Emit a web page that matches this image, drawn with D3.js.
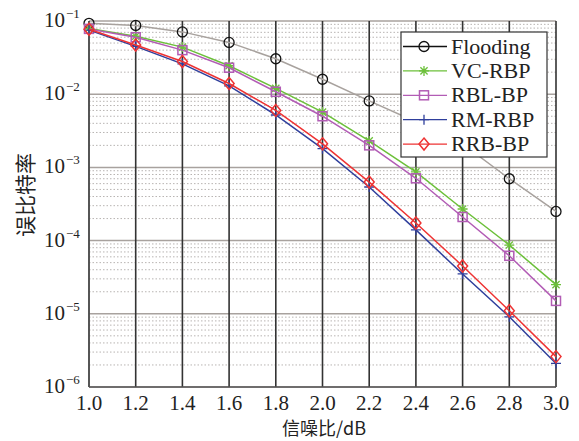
<!DOCTYPE html>
<html>
<head>
<meta charset="utf-8">
<script src="https://cdn.jsdelivr.net/npm/d3@7"></script>
<style>
body { margin: 0; background: #fff; }
text { font-family: "Liberation Serif", "Times New Roman", serif; fill: #222; }
.cjk { font-family: "Noto Sans CJK SC", sans-serif; }
</style>
</head>
<body>
<script>
// data
var snr = [1.0, 1.2, 1.4, 1.6, 1.8, 2.0, 2.2, 2.4, 2.6, 2.8, 3.0];
var flooding = [0.093, 0.087, 0.071, 0.051, 0.0305, 0.016, 0.0081, 0.0042, 0.0021, 0.0007, 0.00025];
var vcRbp = [0.079, 0.062, 0.044, 0.0245, 0.012, 0.0057, 0.0023, 0.00087, 0.00027, 0.000087, 0.000025];
var rblBp = [0.078, 0.060, 0.040, 0.023, 0.0108, 0.0050, 0.0020, 0.00071, 0.00021, 0.000062, 0.000015];
var rmRbp = [0.075, 0.045, 0.026, 0.0130, 0.0052, 0.0018, 0.00054, 0.00014, 0.000035, 0.0000091, 0.0000021];
var rrbBp = [0.077, 0.047, 0.028, 0.0140, 0.0060, 0.0021, 0.00063, 0.000174, 0.000045, 0.000011, 0.0000026];
var xTicks = [1.0, 1.2, 1.4, 1.6, 1.8, 2.0, 2.2, 2.4, 2.6, 2.8, 3.0];
var yTicks = [1e-6, 1e-5, 1e-4, 1e-3, 1e-2, 1e-1];

var series = [
  {name: "Flooding", values: flooding, line: "#a8a29e", mark: "#111", shape: "circle"},
  {name: "VC-RBP", values: vcRbp, line: "#6cc03a", mark: "#6cc03a", shape: "star"},
  {name: "RBL-BP", values: rblBp, line: "#b25cb5", mark: "#b25cb5", shape: "square"},
  {name: "RM-RBP", values: rmRbp, line: "#2f3f9c", mark: "#2f3f9c", shape: "plus"},
  {name: "RRB-BP", values: rrbBp, line: "#ee3333", mark: "#ee3333", shape: "diamond"}
];

var W = 579, H = 441;
var pLeft = 89, pRight = 556, pTop = 21, pBottom = 387;

var x = d3.scaleLinear().domain([1, 3]).range([pLeft, pRight]);
var y = d3.scaleLog().domain([1e-6, 1e-1]).range([pBottom, pTop]);

var svg = d3.select("body").append("svg")
  .attr("width", W).attr("height", H);

// minor dotted grid
var minor = [];
for (var e = -6; e < -1; e++) {
  for (var m = 2; m <= 9; m++) minor.push(m * Math.pow(10, e));
}
svg.append("g").selectAll("line").data(minor).enter().append("line")
  .attr("x1", pLeft).attr("x2", pRight)
  .attr("y1", function(d) { return y(d); }).attr("y2", function(d) { return y(d); })
  .attr("stroke", "#b8b4b2").attr("stroke-width", 1)
  .attr("stroke-dasharray", "1.5,2");

// decade lines
svg.append("g").selectAll("line").data(yTicks).enter().append("line")
  .attr("x1", pLeft).attr("x2", pRight)
  .attr("y1", function(d) { return y(d); }).attr("y2", function(d) { return y(d); })
  .attr("stroke", "#a8a29e").attr("stroke-width", 1.5);

// vertical grid
svg.append("g").selectAll("line").data(xTicks).enter().append("line")
  .attr("x1", function(d) { return x(d); }).attr("x2", function(d) { return x(d); })
  .attr("y1", pTop).attr("y2", pBottom)
  .attr("stroke", "#333").attr("stroke-width", 1.6);

// axes frame
svg.append("line").attr("x1", pLeft).attr("x2", pLeft).attr("y1", pTop).attr("y2", pBottom)
  .attr("stroke", "#555").attr("stroke-width", 1.5);
svg.append("line").attr("x1", pLeft).attr("x2", pRight).attr("y1", pBottom).attr("y2", pBottom)
  .attr("stroke", "#555").attr("stroke-width", 1.5);

// x tick labels
svg.append("g").selectAll("text").data(xTicks).enter().append("text")
  .attr("x", function(d) { return x(d); }).attr("y", 410)
  .attr("text-anchor", "middle").attr("font-size", 21)
  .text(function(d) { return d3.format(".1f")(d); });

// y tick labels
svg.append("g").selectAll("text").data(yTicks).enter().append("text")
  .attr("x", 65).attr("y", function(d) { return y(d) + 6; })
  .attr("text-anchor", "end").attr("font-size", 21)
  .text("10");
svg.append("g").selectAll("text").data(yTicks).enter().append("text")
  .attr("x", 66).attr("y", function(d) { return y(d) - 3; })
  .attr("font-size", 13)
  .text(function(d) { return "\u2212" + Math.round(-Math.log10(d)); });

// axis titles
svg.append("text").attr("class", "cjk")
  .attr("x", 324).attr("y", 435).attr("text-anchor", "middle").attr("font-size", 18)
  .text("信噪比/dB");
svg.append("text").attr("class", "cjk")
  .attr("transform", "translate(33,195) rotate(-90)")
  .attr("text-anchor", "middle").attr("font-size", 21)
  .text("误比特率");

function marker(g, shape, color) {
  if (shape === "circle") {
    g.append("circle").attr("r", 5).attr("fill", "none").attr("stroke", color).attr("stroke-width", 1.3);
  } else if (shape === "square") {
    g.append("rect").attr("x", -4.5).attr("y", -4.5).attr("width", 9).attr("height", 9)
      .attr("fill", "none").attr("stroke", color).attr("stroke-width", 1.5);
  } else if (shape === "diamond") {
    g.append("path").attr("d", "M0,-6L5,0L0,6L-5,0Z")
      .attr("fill", "none").attr("stroke", color).attr("stroke-width", 1.5);
  } else if (shape === "plus") {
    g.append("path").attr("d", "M-5,0H5M0,-5V5")
      .attr("stroke", color).attr("stroke-width", 1.3);
  } else if (shape === "star") {
    g.append("path").attr("d", "M-5,0H5M0,-5V5M-3.6,-3.6L3.6,3.6M-3.6,3.6L3.6,-3.6")
      .attr("stroke", color).attr("stroke-width", 1.3);
  }
}

var line = d3.line()
  .x(function(d) { return x(d[0]); })
  .y(function(d) { return y(d[1]); });

series.forEach(function(s) {
  var pts = snr.map(function(v, i) { return [v, s.values[i]]; });
  svg.append("path").datum(pts)
    .attr("d", line).attr("fill", "none")
    .attr("stroke", s.line).attr("stroke-width", 1.5);
  var mk = svg.append("g").selectAll("g").data(pts).enter().append("g")
    .attr("transform", function(d) { return "translate(" + x(d[0]) + "," + y(d[1]) + ")"; });
  mk.each(function() { marker(d3.select(this), s.shape, s.mark); });
});

// legend
var lg = svg.append("g").attr("transform", "translate(401,32)");
lg.append("rect").attr("width", 146).attr("height", 125)
  .attr("fill", "#fff").attr("stroke", "#333").attr("stroke-width", 1.2);
series.forEach(function(s, i) {
  var row = lg.append("g").attr("transform", "translate(0," + (14.5 + i * 24.4) + ")");
  row.append("line").attr("x1", 2).attr("x2", 46).attr("y1", 0).attr("y2", 0)
    .attr("stroke", s.line === "#a8a29e" ? "#111" : s.line).attr("stroke-width", 1.3);
  marker(row.append("g").attr("transform", "translate(23,0)"), s.shape, s.mark);
  row.append("text").attr("x", 50).attr("y", 7).attr("font-size", 22).text(s.name);
});
</script>
</body>
</html>
